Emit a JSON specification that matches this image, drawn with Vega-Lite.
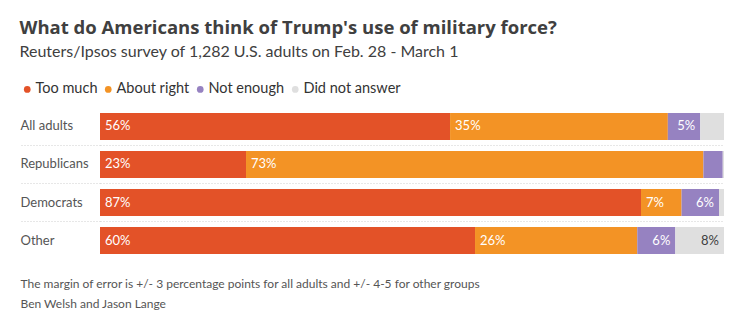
{
  "$schema": "https://vega.github.io/schema/vega-lite/v6.json",
  "width": 624,
  "height": 141,
  "autosize": {"type": "none"},
  "padding": {"left": 100, "top": 113, "right": 13, "bottom": 67},
  "background": "white",
  "title": {
    "text": "What do Americans think of Trump's use of military force?",
    "subtitle": "Reuters/Ipsos survey of 1,282 U.S. adults on Feb. 28 - March 1",
    "anchor": "start",
    "frame": "bounds",
    "font": "Open Sans",
    "fontSize": 18.5,
    "fontWeight": "bold",
    "color": "#404040",
    "subtitleFont": "Lato",
    "subtitleFontSize": 16,
    "subtitleColor": "#404040",
    "subtitlePadding": 7,
    "offset": 22
  },
  "data": {
    "values": [
      {"group": "All adults", "response": "Too much", "order": 1, "value": 56.1, "label": "56%"},
      {"group": "All adults", "response": "About right", "order": 2, "value": 34.9, "label": "35%"},
      {"group": "All adults", "response": "Not enough", "order": 3, "value": 5.2, "label": "5%"},
      {"group": "All adults", "response": "Did not answer", "order": 4, "value": 3.8, "label": ""},
      {"group": "Republicans", "response": "Too much", "order": 1, "value": 23.4, "label": "23%"},
      {"group": "Republicans", "response": "About right", "order": 2, "value": 73.3, "label": "73%"},
      {"group": "Republicans", "response": "Not enough", "order": 3, "value": 3.1, "label": ""},
      {"group": "Republicans", "response": "Did not answer", "order": 4, "value": 0.2, "label": ""},
      {"group": "Democrats", "response": "Too much", "order": 1, "value": 86.7, "label": "87%"},
      {"group": "Democrats", "response": "About right", "order": 2, "value": 6.5, "label": "7%"},
      {"group": "Democrats", "response": "Not enough", "order": 3, "value": 6.0, "label": "6%"},
      {"group": "Democrats", "response": "Did not answer", "order": 4, "value": 0.8, "label": ""},
      {"group": "Other", "response": "Too much", "order": 1, "value": 60.1, "label": "60%"},
      {"group": "Other", "response": "About right", "order": 2, "value": 26.0, "label": "26%"},
      {"group": "Other", "response": "Not enough", "order": 3, "value": 6.1, "label": "6%"},
      {"group": "Other", "response": "Did not answer", "order": 4, "value": 7.8, "label": "8%"}
    ]
  },
  "transform": [
    {"stack": "value", "groupby": ["group"], "sort": [{"field": "order", "order": "ascending"}], "as": ["x0", "x1"]}
  ],
  "encoding": {
    "y": {
      "field": "group",
      "type": "nominal",
      "sort": ["All adults", "Republicans", "Democrats", "Other"],
      "scale": {"paddingInner": 0.29, "paddingOuter": 0},
      "axis": {
        "title": null,
        "domain": false,
        "bandPosition": 1.204,
        "labelOffset": 0,
        "ticks": true,
        "tickSize": 80,
        "tickColor": "#cfcfcf",
        "tickDash": [1, 2],
        "tickOpacity": {"condition": {"test": "datum.value === 'Other'", "value": 0}, "value": 1},
        "grid": true,
        "gridColor": "#cfcfcf",
        "gridDash": [1, 2],
        "gridOpacity": {"condition": {"test": "datum.value === 'Other'", "value": 0}, "value": 1},
        "labelAlign": "left",
        "labelBaseline": "middle",
        "labelPadding": 0,
        "labelFont": "Lato",
        "labelFontSize": 13,
        "labelColor": "#555555",
        "zindex": 0
      }
    }
  },
  "layer": [
    {
      "mark": {"type": "bar"},
      "encoding": {
        "x": {
          "field": "x0",
          "type": "quantitative",
          "scale": {"domain": [0, 100], "nice": false},
          "axis": {
            "domain": false,
            "ticks": false,
            "labels": false,
            "grid": false,
            "title": ["The margin of error is +/- 3 percentage points for all adults and +/- 4-5 for other groups", "Ben Welsh and Jason Lange"],
            "titleFont": "Lato",
            "titleFontSize": 12,
            "titleFontWeight": "normal",
            "titleColor": "#555555",
            "titleAnchor": "start",
            "titleAlign": "left",
            "titleBaseline": "alphabetic",
            "titleX": -80,
            "titleY": 33,
            "titleLineHeight": 20
          }
        },
        "x2": {"field": "x1"},
        "color": {
          "field": "response",
          "type": "nominal",
          "scale": {
            "domain": ["Too much", "About right", "Not enough", "Did not answer"],
            "range": ["#e35228", "#f39325", "#9682c1", "#dfdfdf"]
          },
          "legend": {
            "title": null,
            "orient": "none",
            "legendX": -80,
            "legendY": -31,
            "direction": "horizontal",
            "symbolType": "circle",
            "symbolSize": 45,
            "symbolStrokeWidth": 0,
            "labelFont": "Lato",
            "labelFontSize": 14.5,
            "labelColor": "#333333",
            "labelOffset": 1,
            "columnPadding": 3
          }
        }
      }
    },
    {
      "transform": [{"filter": "datum.order <= 2"}],
      "mark": {"type": "text", "align": "left", "baseline": "middle", "dx": 5, "font": "Lato", "fontSize": 13, "color": "white"},
      "encoding": {
        "x": {"field": "x0", "type": "quantitative"},
        "text": {"field": "label"}
      }
    },
    {
      "transform": [{"filter": "datum.order >= 3"}],
      "mark": {"type": "text", "align": "right", "baseline": "middle", "dx": -5, "font": "Lato", "fontSize": 13},
      "encoding": {
        "x": {"field": "x1", "type": "quantitative"},
        "text": {"field": "label"},
        "color": {
          "condition": {"test": "datum.order === 4", "value": "#404040"},
          "value": "white"
        }
      }
    }
  ],
  "config": {
    "view": {"stroke": null}
  }
}
